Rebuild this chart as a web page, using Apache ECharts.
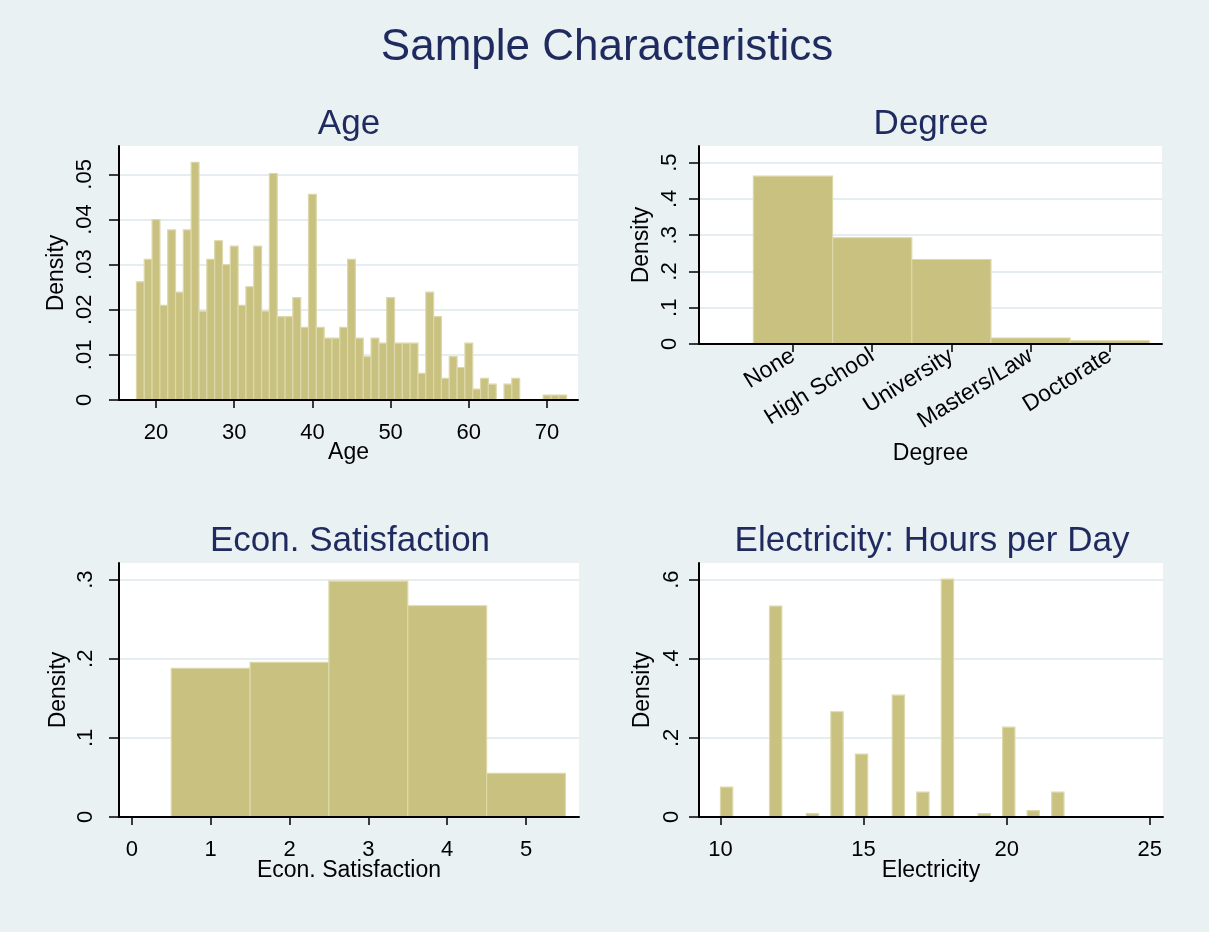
<!DOCTYPE html>
<html><head><meta charset="utf-8">
<script src="https://cdn.jsdelivr.net/npm/echarts@6/dist/echarts.min.js"></script>
<style>html,body{margin:0;padding:0;background:#EAF1F3}#c{width:1209px;height:932px}</style>
</head><body><div id="c"></div><script>
// ---------- data ----------
const mainTitle = 'Sample Characteristics';
const panelTitles = ['Age', 'Degree', 'Econ. Satisfaction', 'Electricity: Hours per Day'];
const axisTitles = ['Age', 'Degree', 'Econ. Satisfaction', 'Electricity'];

const ageValues = [18,19,20,21,22,23,24,25,26,27,28,29,30,31,32,33,34,35,36,37,38,39,40,41,42,43,44,45,
  46,47,48,49,50,51,52,53,54,55,56,57,58,59,60,61,62,63,64,65,66,67,68,69,70,71,72];
const ageDensity = [0.0262,0.0312,0.0400,0.0210,0.0377,0.0239,0.0377,0.0527,0.0197,0.0312,0.0353,0.0300,
  0.0341,0.0210,0.0251,0.0341,0.0197,0.0502,0.0185,0.0185,0.0227,0.0161,0.0456,0.0161,0.0137,0.0137,
  0.0161,0.0312,0.0137,0.0096,0.0137,0.0126,0.0227,0.0126,0.0126,0.0126,0.0059,0.0239,0.0185,0.0048,
  0.0096,0.0072,0.0126,0.0024,0.0048,0.0035,0,0.0035,0.0048,0,0,0,0.0011,0.0011,0.0011];
const ageXTicks = [20, 30, 40, 50, 60, 70];
const ageYTicks = [0, 0.01, 0.02, 0.03, 0.04, 0.05];

const degreeCategories = ['None', 'High School', 'University', 'Masters/Law', 'Doctorate'];
const degreeDensity = [0.463, 0.293, 0.233, 0.0165, 0.009];
const degreeYTicks = [0, 0.1, 0.2, 0.3, 0.4, 0.5];

const econValues = [1, 2, 3, 4, 5];
const econDensity = [0.188, 0.1955, 0.298, 0.267, 0.0552];
const econXTicks = [0, 1, 2, 3, 4, 5];
const econYTicks = [0, 0.1, 0.2, 0.3];

const elecValues = [10, 12, 13, 14, 15, 16, 17, 18, 19, 20, 21, 22];
const elecDensity = [0.0756, 0.533, 0.0084, 0.266, 0.159, 0.308, 0.063, 0.601, 0.0084, 0.227, 0.016, 0.063];
const elecBinStart = 10, elecBinEnd = 22, elecBinCount = 28;
const elecXTicks = [10, 15, 20, 25];
const elecYTicks = [0, 0.2, 0.4, 0.6];

// ---------- styling ----------
const font = "'Liberation Sans', Arial, sans-serif";
const titleColor = '#1F2B5E';
const barFill = '#C9C17F';
const barEdge = '#DCD8AA';
const gridColor = '#E5EDF0';

// ---------- build ----------
const ageData = ageValues.map((a, i) => [a - 0.5, a + 0.5, ageDensity[i]]);
const degreeData = degreeDensity.map((d, i) => [i + 0.5, i + 1.5, d]);
const econData = econValues.map((v, i) => [v - 0.5, v + 0.5, econDensity[i]]);
const binW = (elecBinEnd - elecBinStart) / elecBinCount;
const elecData = elecValues.map((v, i) => {
  const k = Math.min(elecBinCount - 1, Math.floor((v - elecBinStart) / binW + 1e-9));
  return [elecBinStart + k * binW, elecBinStart + (k + 1) * binW, elecDensity[i]];
});

function fmtY(v) {
  if (Math.abs(v) < 1e-12) return '0';
  return String(+v.toFixed(4)).replace(/^0\./, '.');
}

function renderItem(params, api) {
  const y = api.value(2);
  if (!(y > 0)) return null;
  const a = api.coord([api.value(0), y]);
  const b = api.coord([api.value(1), 0]);
  return { type: 'rect', shape: { x: a[0], y: a[1], width: b[0] - a[0], height: b[1] - a[1] },
    style: { fill: barFill, stroke: barEdge, lineWidth: 1.2 } };
}

const grids = [
  { left: 119, top: 146, width: 459, height: 254 },
  { left: 699, top: 146, width: 463, height: 198 },
  { left: 119, top: 563, width: 460, height: 254 },
  { left: 699, top: 563, width: 464, height: 254 }
].map(g => Object.assign(g, { show: true, backgroundColor: '#ffffff', borderWidth: 0, containLabel: false, outerBoundsMode: 'none' }));

function xAxis(i, min, max, ticks, nameGap, extraLabel) {
  return {
    gridIndex: i, type: 'value', min, max, z: 5,
    axisLine: { show: true, onZero: false, lineStyle: { color: '#000', width: 2 } },
    axisTick: { show: true, length: 8, customValues: ticks, lineStyle: { color: '#000', width: 1.5 } },
    axisLabel: Object.assign({ customValues: ticks, margin: 22, fontSize: 22, color: '#000', fontFamily: font }, extraLabel || {}),
    splitLine: { show: false },
    name: axisTitles[i], nameLocation: 'middle', nameGap, nameMoveOverlap: false,
    nameTextStyle: { fontSize: 23, color: '#000', fontFamily: font }
  };
}
function yAxis(i, max, interval, ticks, margin, nameGap) {
  return {
    gridIndex: i, type: 'value', min: 0, max, interval,
    axisLine: { show: true, onZero: false, lineStyle: { color: '#000', width: 2 } },
    axisTick: { show: true, length: 10, customValues: ticks, lineStyle: { color: '#000', width: 1.5 } },
    axisLabel: { customValues: ticks, rotate: 90, margin, fontSize: 22, color: '#000', fontFamily: font, formatter: fmtY },
    splitLine: { show: true, lineStyle: { color: gridColor, width: 2 } },
    name: 'Density', nameLocation: 'middle', nameGap, nameMoveOverlap: false,
    nameTextStyle: { fontSize: 23, color: '#000', fontFamily: font }
  };
}

const titleCenters = [[349, 107], [931, 107], [350, 524], [932, 524]];
const titles = [{ text: mainTitle, left: 607, top: 26, textAlign: 'center', padding: 0,
  textStyle: { fontSize: 44, fontWeight: 'normal', color: titleColor, fontFamily: font } }]
  .concat(panelTitles.map((t, i) => ({ text: t, left: titleCenters[i][0], top: titleCenters[i][1], textAlign: 'center', padding: 0,
    textStyle: { fontSize: 35, fontWeight: 'normal', color: titleColor, fontFamily: font } })));

const option = {
  backgroundColor: '#EAF1F3',
  animation: false,
  title: titles,
  grid: grids,
  xAxis: [
    xAxis(0, 15.27, 73.96, ageXTicks, 41),
    xAxis(1, -0.187, 5.66, [1, 2, 3, 4, 5], 98, { rotate: 32, margin: 10, fontSize: 23, formatter: v => degreeCategories[Math.round(v) - 1] || '' }),
    xAxis(2, -0.163, 5.672, econXTicks, 42),
    xAxis(3, 9.25, 25.46, elecXTicks, 42)
  ],
  yAxis: [
    yAxis(0, 0.0563, 0.01, ageYTicks, 23, 51),
    yAxis(1, 0.546, 0.1, degreeYTicks, 18, 46),
    yAxis(2, 0.321, 0.1, econYTicks, 22, 49),
    yAxis(3, 0.642, 0.2, elecYTicks, 16, 45)
  ],
  series: [ageData, degreeData, econData, elecData].map((d, i) => ({
    type: 'custom', xAxisIndex: i, yAxisIndex: i, data: d, encode: { x: [0, 1], y: 2 },
    renderItem, silent: true, z: 2, clip: true
  }))
};
const chart = echarts.init(document.getElementById('c'), null, { renderer: 'canvas' });
chart.setOption(option);
</script></body></html>
